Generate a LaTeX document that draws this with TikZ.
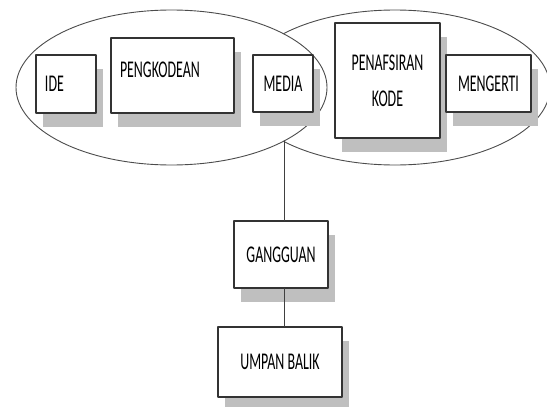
\documentclass[tikz,border=0pt]{standalone}
\usepackage{fontspec}
\setmainfont[FakeStretch=0.58]{Carlito}
\usetikzlibrary{shapes.geometric,shadows}
\begin{document}
\begin{tikzpicture}[x=1pt,y=-1pt,line cap=round,line join=round,
  blok/.style={draw=black!80,line width=1.2pt,fill=white,inner sep=0pt,
    font=\fontsize{24}{36}\selectfont,
    drop shadow={shadow xshift=7pt,shadow yshift=-14pt,fill=black!25,opacity=1}},
  lingkar/.style={ellipse,draw=black!70,line width=0.9pt,fill=white,inner sep=0pt}]
  \useasboundingbox (0,0) rectangle (547,407);
  \node[lingkar,minimum width=310pt,minimum height=155pt] (terima) at (395,87.5) {};
  \node[lingkar,minimum width=311pt,minimum height=155pt] (kirim) at (171.5,87.5) {};
  \node[blok,minimum width=60pt,minimum height=58pt,text width=42pt,inner xsep=9pt,align=left] (ide) at (66,84) {IDE};
  \node[blok,text width=105pt,inner xsep=9pt,text height=39pt,text depth=36pt,align=left] (kode) at (172.5,75.5) {PENGKODEAN};
  \node[blok,minimum width=60pt,minimum height=57pt] (media) at (283,83.5) {MEDIA};
  \node[blok,minimum width=105pt,minimum height=115pt,align=center] (tafsir) at (387.5,80.5) {PENAFSIRAN\\KODE};
  \node[blok,minimum width=85pt,minimum height=57pt] (mengerti) at (488.5,83.5) {MENGERTI};
  \node[blok,minimum width=94pt,minimum height=67pt] (gangguan) at (281,254.5) {GANGGUAN};
  \node[blok,minimum width=124pt,minimum height=70pt] (umpan) at (280,362) {UMPAN BALIK};
  \coordinate (temu) at (284,141);
  \draw[line width=1pt,draw=black!75] (temu) -- (temu |- gangguan.north);
  \draw[line width=1pt,draw=black!75] (gangguan.south -| temu) -- (umpan.north -| temu);
\end{tikzpicture}
\end{document}
